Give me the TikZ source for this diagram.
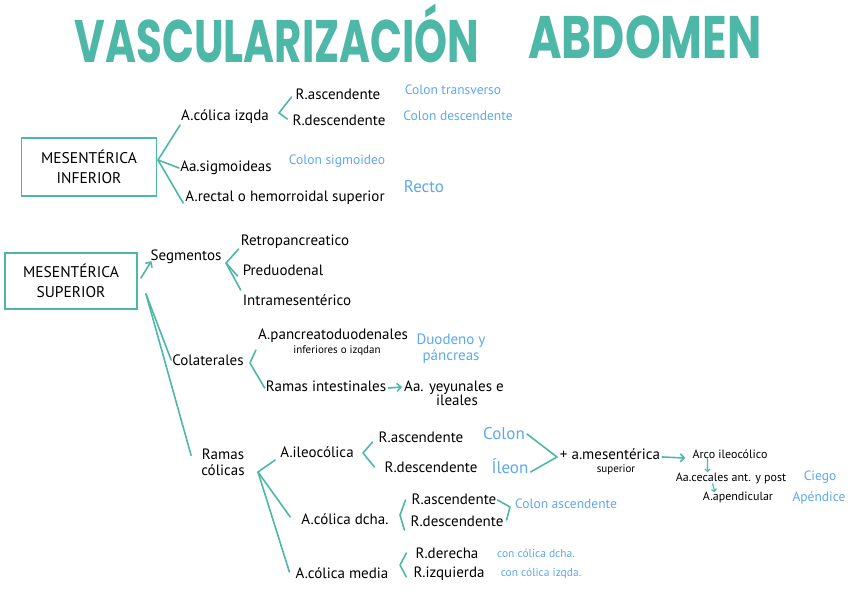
\documentclass[tikz,border=0pt]{standalone}
\usepackage{fontspec}
\setmainfont{PT Sans}
\newfontfamily\titlefont{Poppins}
\usetikzlibrary{arrows.meta,calc}
\definecolor{tealc}{RGB}{77,183,168}
\definecolor{bluec}{RGB}{92,168,240}
\begin{document}
\begin{tikzpicture}[x=1pt,y=-1pt,
  t/.style={inner sep=1pt, font=\fontsize{15}{15}\selectfont},
  ts/.style={inner sep=1pt, font=\fontsize{12}{12}\selectfont},
  tb/.style={inner sep=1pt, text=bluec, font=\fontsize{13.5}{14}\selectfont},
  tbs/.style={inner sep=1pt, text=bluec, font=\fontsize{11.5}{12}\selectfont},
  tbl/.style={inner sep=1pt, text=bluec, font=\fontsize{17}{18}\selectfont},
  ln/.style={draw=tealc, line width=1.6pt, line cap=round, line join=round},
  arr/.style={ln, -{Straight Barb[length=4pt,width=8pt]}},
  arrs/.style={draw=tealc, line width=1.2pt, line cap=round, -{Straight Barb[length=2.5pt,width=5pt]}},
  boxn/.style={draw=tealc, line width=1.8pt, align=center, inner sep=0pt,
    font=\fontsize{15.5}{20}\selectfont},
  ttl/.style={text=tealc, inner sep=0pt, font=\titlefont\bfseries\fontsize{60}{60}\selectfont}
]
\useasboundingbox (0,0) rectangle (848,599);

% title
\node[ttl, xscale=0.70] (ti1) at (277,33) {VASCULARIZACIÓN};
\node[ttl, xscale=0.76] (ti2) at (645,37) {ABDOMEN};

% ---------- Mesenterica inferior ----------
\node[boxn, minimum width=135pt, minimum height=58pt] (mi) at (89,167) {MESENTÉRICA\\INFERIOR};
\node[t] (acizq) at (225,117) {A.cólica izqda};
\node[t] (rasc1) at (338,94) {R.ascendente};
\node[t] (rdes1) at (339,120) {R.descendente};
\node[tb] (ctr) at (453,90) {Colon transverso};
\node[tb] (cde) at (458,116) {Colon descendente};
\node[t] (sig) at (226,168) {Aa.sigmoideas};
\node[tb] (csig) at (337,161) {Colon sigmoideo};
\node[t] (rect) at (285,198) {A.rectal o hemorroidal superior};
\node[tbl] (recto) at (424,187) {Recto};

\coordinate (f1) at (158,160);
\draw[ln] (f1) -- (acizq.south west);
\draw[ln] (f1) -- (sig.west);
\draw[ln] (f1) -- ($(rect.south west)+(-1,-3)$);
\coordinate (v1) at (279,113);
\draw[ln] ($(rasc1.west)+(-3,3)$) -- (v1) -- ($(rdes1.west)+(-4,-1)$);

% ---------- Mesenterica superior ----------
\node[boxn, minimum width=132pt, minimum height=56pt] (ms) at (71,281) {MESENTÉRICA\\SUPERIOR};
\node[t] (seg) at (186,257) {Segmentos};
\node[t] (retro) at (295,242) {Retropancreatico};
\node[t] (predu) at (283,270) {Preduodenal};
\node[t] (intra) at (297,300) {Intramesentérico};
\draw[arr] ($(ms.east)+(3,-3)$) -- ($(seg.south west)+(2,-4)$);
\coordinate (v2) at (226,263);
\draw[ln] ($(retro.west)+(-1,7)$) -- (v2) -- ($(predu.west)+(-4,6)$);
\draw[ln] (v2) -- ($(intra.west)+(-1,-10)$);

\node[t] (col) at (208,360) {Colaterales};
\node[t, align=center] (pan) at (333,342) {A.pancreatoduodenales\\[-1pt]{\fontsize{11}{11}\selectfont\hspace*{8pt}inferiores o izqdan}};
\node[tb, align=center, font=\fontsize{15}{16}\selectfont] (duo) at (451,349) {Duodeno y\\páncreas};
\node[t] (ri) at (326,386) {Ramas intestinales};
\node[t, align=center] (yey) at (454,393) {Aa. yeyunales e\\[-1pt]\hspace*{6pt}ileales};
\coordinate (f2) at (146,294);
\draw[ln] (f2) -- (col.west);
\coordinate (v3) at (250,363);
\draw[ln] ($(pan.west)+(-1,8)$) -- (v3) -- ($(ri.west)+(0,2)$);
\draw[arr] ($(ri.east)+(1,2)$) -- ($(ri.east -| yey.west)+(-1,1)$);

% ---------- Ramas colicas ----------
\node[t, align=center, font=\fontsize{15}{16}\selectfont] (rc) at (223,462) {Ramas\\cólicas};
\draw[ln] (f2) -- ($(rc.north west)+(-9,8)$);
\coordinate (f4) at (258,472);
\node[t] (ileo) at (317,452) {A.ileocólica};
\node[t] (cdch) at (345,519) {A.cólica dcha.};
\node[t] (cmed) at (342,573) {A.cólica media};
\draw[ln] (f4) -- ($(ileo.west)+(-4,8)$);
\draw[ln] (f4) -- ($(cdch.west)+(-10,-2)$);
\draw[ln] (f4) -- ($(cmed.west)+(-5,-1)$);

% ileocolica
\node[t] (rasc2) at (421,437) {R.ascendente};
\node[t] (rdes2) at (431,467) {R.descendente};
\node[tbl] (colon) at (504,434) {Colon};
\node[tbl] (ileon) at (510,466) {Íleon};
\coordinate (v4) at (363,453);
\draw[ln] ($(rasc2.west)+(-5,5)$) -- (v4) -- ($(rdes2.west)+(-9,0)$);
\coordinate (v5) at (557,457);
\draw[ln] ($(colon.east)+(1,0)$) -- (v5) -- ($(ileon.east)+(1,6)$);
\node[t, align=center] (mes) at (610,462) {+ a.mesentérica\\[-2pt]{\fontsize{11}{11}\selectfont\hspace*{12pt}superior}};
\node[ts] (arco) at (730,454) {Arco ileocólico};
\node[ts] (cec) at (731,478) {Aa.cecales ant. y post};
\node[ts] (apen) at (738,497) {A.apendicular};
\node[tb] (ciego) at (820,477) {Ciego};
\node[tb] (apend) at (819,498) {Apéndice};
\draw[arr] ($(mes.east)+(1,-5)$) -- ($(arco.west)+(-6,4)$);
\draw[arrs] ($(arco.south west)+(16,-1)$) -- ($(cec.north west)+(33,1)$);
\draw[arrs] ($(cec.south west)+(38,-1)$) -- ($(apen.north west)+(13,2)$);

% colica dcha
\node[t] (rasc3) at (454,499) {R.ascendente};
\node[t] (rdes3) at (457,521) {R.descendente};
\node[tb] (casc) at (566,504) {Colon ascendente};
\coordinate (v6) at (400,515);
\draw[ln] ($(rasc3.west)+(-5,1)$) -- (v6) -- ($(rdes3.west)+(-5,9)$);
\coordinate (v7) at (510,507);
\draw[ln] ($(rasc3.east)+(0,1)$) -- (v7) -- ($(rdes3.east)+(2,-1)$);

% colica media
\node[t] (rder) at (447,553) {R.derecha};
\node[t] (rizq) at (449,574) {R.izquierda};
\node[tbs] (ccd) at (536,553) {con cólica dcha.};
\node[tbs] (cci) at (541,574) {con cólica izqda.};
\coordinate (v8) at (400,565);
\draw[ln] ($(rder.west)+(-8,0)$) -- (v8) -- ($(rizq.west)+(-6,3)$);
\end{tikzpicture}
\end{document}
